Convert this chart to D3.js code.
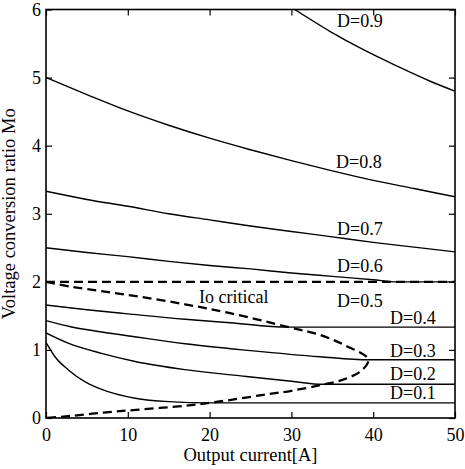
<!DOCTYPE html>
<html lang="en">
<head>
<meta charset="utf-8">
<title>Voltage conversion ratio</title>
<script src="https://cdn.jsdelivr.net/npm/d3@7"></script>
<style>
body { margin: 0; background: #fff; }
text { font-family: "Liberation Serif", "Times New Roman", serif; fill: #000; }
</style>
</head>
<body>
<script type="text/javascript">

var width = 465;
var height = 469;
var margin = {top: 9.5, right: 10, bottom: 51, left: 46};

var xTicks = [0, 10, 20, 30, 40, 50];
var yTicks = [0, 1, 2, 3, 4, 5, 6];

// [output current A, Mo]
var d09 = [[30.4, 6.0], [34.7, 5.68], [38.8, 5.41], [42.9, 5.17], [46.9, 4.95], [50, 4.8]];
var d08 = [[0, 5.0], [5, 4.75], [10, 4.51], [15, 4.3], [20, 4.11], [25, 3.94], [30, 3.78], [35, 3.63], [40, 3.49], [45, 3.37], [50, 3.25]];
var d07 = [[0, 3.33], [5, 3.21], [10, 3.11], [15, 3.0], [20, 2.91], [25, 2.82], [30, 2.74], [35, 2.66], [40, 2.58], [45, 2.51], [50, 2.44]];
var d06 = [[0, 2.5], [5, 2.43], [10, 2.37], [15, 2.3], [20, 2.24], [25, 2.19], [30, 2.13], [35, 2.08], [40, 2.03], [43, 2.0], [50, 2.0]];
var d04 = [[0, 1.66], [5, 1.59], [10, 1.53], [17, 1.45], [22.5, 1.4], [29.5, 1.335], [50, 1.335]];
var d03 = [[0, 1.43], [3, 1.34], [7, 1.26], [11, 1.19], [17, 1.09], [25, 0.99], [33.5, 0.9], [39.4, 0.855], [50, 0.855]];
var d02 = [[0, 1.25], [2.7, 1.1], [6.8, 0.95], [10.9, 0.83], [17, 0.71], [24.5, 0.61], [30, 0.54], [33.8, 0.495], [50, 0.495]];
var d01 = [[0, 1.11], [1.1, 0.9], [2.7, 0.71], [4.8, 0.53], [6.8, 0.42], [10.9, 0.29], [15, 0.24], [20, 0.222], [50, 0.222]];

// critical boundary (D=0.5 level and the Io critical loop)
var critLevel = [[0, 2], [50, 2]];
var critLoop = [[0, 2], [3, 1.93], [7, 1.86], [11.5, 1.78], [17, 1.67], [22.5, 1.54], [29.5, 1.34], [33.5, 1.22], [36.5, 1.07], [39.4, 0.86],
                [38.6, 0.7], [36.5, 0.57], [33.8, 0.49], [30, 0.4], [26.6, 0.34], [20.5, 0.23], [17, 0.18], [11, 0.12], [7, 0.08], [3, 0.03], [0, 0]];

var solidSeries = [d09, d08, d07, d06, d04, d03, d02, d01];

var labels = [
  {text: "D=0.9", x: 337, y: 27},
  {text: "D=0.8", x: 336, y: 168},
  {text: "D=0.7", x: 337, y: 235},
  {text: "D=0.6", x: 337, y: 272},
  {text: "D=0.5", x: 337, y: 307},
  {text: "D=0.4", x: 390, y: 324},
  {text: "D=0.3", x: 390, y: 357},
  {text: "D=0.2", x: 390, y: 380},
  {text: "D=0.1", x: 390, y: 399},
  {text: "Io critical", x: 199, y: 303}
];

var svg = d3.select("body").append("svg")
            .attr("width", width)
            .attr("height", height);

var x = d3.scaleLinear().domain([0, 50]).range([margin.left, width - margin.right]);
var y = d3.scaleLinear().domain([0, 6]).range([height - margin.bottom, margin.top]);

svg.append("clipPath").attr("id", "plot")
   .append("rect")
   .attr("x", x(0)).attr("y", y(6))
   .attr("width", x(50) - x(0)).attr("height", y(0) - y(6));

var line = d3.line()
             .x(function(d) { return x(d[0]); })
             .y(function(d) { return y(d[1]); })
             .curve(d3.curveMonotoneX);

var g = svg.append("g").attr("clip-path", "url(#plot)");

g.selectAll("path.solid")
 .data(solidSeries)
 .enter()
 .append("path")
 .attr("class", "solid")
 .attr("d", line)
 .attr("fill", "none")
 .attr("stroke", "#000")
 .attr("stroke-width", 1.4);

g.append("path")
 .attr("d", line(critLevel))
 .attr("fill", "none")
 .attr("stroke", "#000")
 .attr("stroke-width", 2.3)
 .attr("stroke-dasharray", "9,5");

g.append("path")
 .attr("d", line.curve(d3.curveCatmullRom.alpha(0.5))(critLoop))
 .attr("fill", "none")
 .attr("stroke", "#000")
 .attr("stroke-width", 2.3)
 .attr("stroke-dasharray", "9,5");

// axes with inward ticks on all four sides
function styleAxis(sel) {
  sel.select(".domain").remove();
  sel.selectAll(".tick line").attr("stroke", "#000").attr("stroke-width", 1.2);
  sel.selectAll(".tick text")
     .attr("font-family", "Liberation Serif, serif")
     .attr("font-size", 18)
     .attr("fill", "#000");
}

svg.append("g")
   .attr("transform", "translate(0," + y(0) + ")")
   .call(d3.axisBottom(x).tickValues(xTicks).tickSize(-6).tickPadding(10).tickFormat(d3.format("d")))
   .call(styleAxis);

svg.append("g")
   .attr("transform", "translate(0," + y(6) + ")")
   .call(d3.axisTop(x).tickValues(xTicks).tickSize(-6).tickFormat(""))
   .call(styleAxis);

svg.append("g")
   .attr("transform", "translate(" + x(0) + ",0)")
   .call(d3.axisLeft(y).tickValues(yTicks).tickSize(-6).tickPadding(5).tickFormat(d3.format("d")))
   .call(styleAxis);

svg.append("g")
   .attr("transform", "translate(" + x(50) + ",0)")
   .call(d3.axisRight(y).tickValues(yTicks).tickSize(-6).tickFormat(""))
   .call(styleAxis);

svg.append("rect")
   .attr("x", x(0)).attr("y", y(6))
   .attr("width", x(50) - x(0)).attr("height", y(0) - y(6))
   .attr("fill", "none")
   .attr("stroke", "#000")
   .attr("stroke-width", 1.6);

svg.selectAll("text.lab")
   .data(labels)
   .enter()
   .append("text")
   .attr("class", "lab")
   .attr("x", function(d) { return d.x; })
   .attr("y", function(d) { return d.y; })
   .attr("font-size", 18)
   .text(function(d) { return d.text; });

svg.append("text")
   .attr("x", (x(0) + x(50)) / 2)
   .attr("y", 461)
   .attr("text-anchor", "middle")
   .attr("font-size", 18.5)
   .text("Output current[A]");

svg.append("text")
   .attr("transform", "translate(15," + (y(0) + y(6)) / 2 + ") rotate(-90)")
   .attr("text-anchor", "middle")
   .attr("font-size", 18.5)
   .text("Voltage conversion ratio Mo");

</script>
</body>
</html>
